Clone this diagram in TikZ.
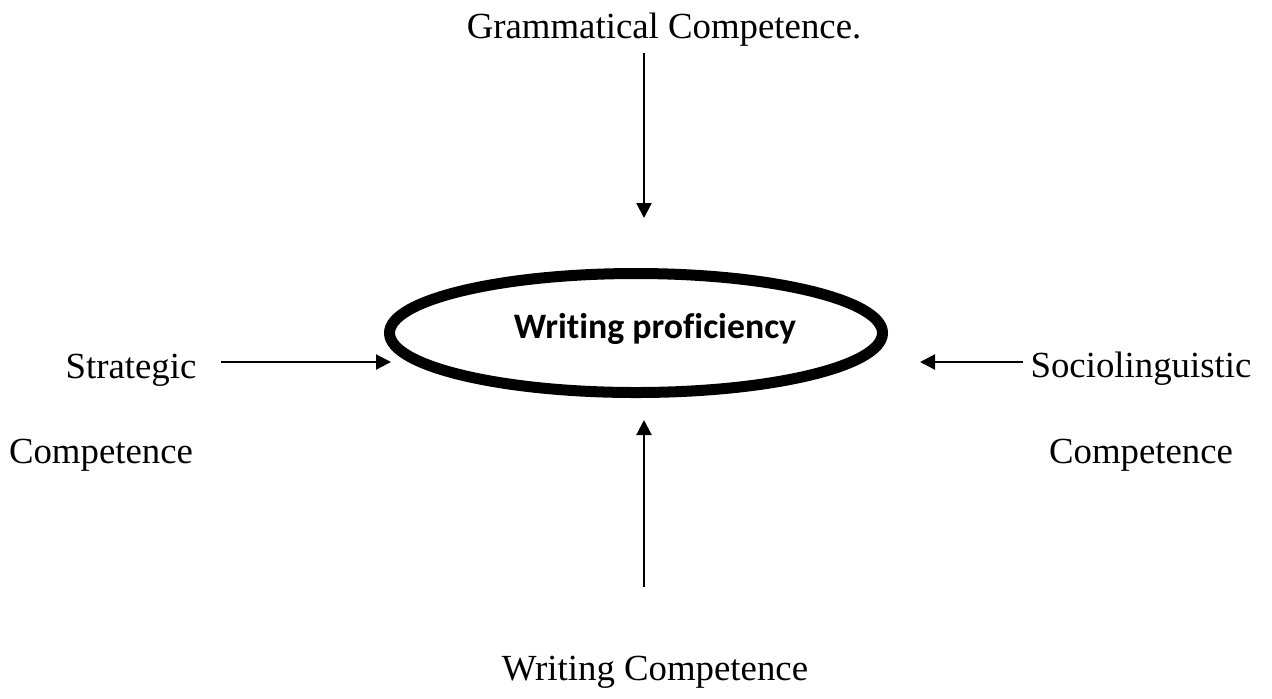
\documentclass[tikz,border=0pt]{standalone}
\usepackage{fontspec}
\setmainfont{Liberation Serif}
\newfontfamily\calibri[Ligatures=NoCommon]{Carlito}
\usetikzlibrary{shapes.geometric,arrows.meta}

\begin{document}
\begin{tikzpicture}[x=0.5pt, y=-0.5pt,
          every node/.style = {inner sep=0pt, anchor=base,
          font=\fontsize{18.4}{22}\selectfont},
          arr/.style = {draw, line width=1.1pt,
          -{Triangle[width=7.5pt,length=7.5pt]}},
          oval/.style = {ellipse, draw, line width=5.5pt, anchor=center,
          minimum width=246.5pt, minimum height=59.5pt}
          ]
          \useasboundingbox (0,0) rectangle (1272,698);
          \node[oval] (wp) at (636,333) {};
          \node[font=\calibri\bfseries\fontsize{17.9}{21}\selectfont] (wptext) at (655,338) {Writing proficiency};
          \node (gram) at (664,38) {Grammatical Competence.};
          \node (strat) at (131,378) {Strategic};
          \node (stratc) at (101,463) {Competence};
          \node (socio) at (1141,377) {Sociolinguistic};
          \node (socioc) at (1141,463) {Competence};
          \node (wcomp) at (655,680) {Writing Competence};
          \coordinate (gtail) at (644,53);   \coordinate (gtip) at (644,218);
          \coordinate (wtail) at (644,587);  \coordinate (wtip) at (644,420);
          \coordinate (stail) at (221,362);  \coordinate (stip) at (391,362);
          \coordinate (otail) at (1023,362); \coordinate (otip) at (920,362);
          \draw[arr] (gtail) -- (gtip);
          \draw[arr] (wtail) -- (wtip);
          \draw[arr] (stail) -- (stip);
          \draw[arr] (otail) -- (otip);
\end{tikzpicture}
\end{document}
